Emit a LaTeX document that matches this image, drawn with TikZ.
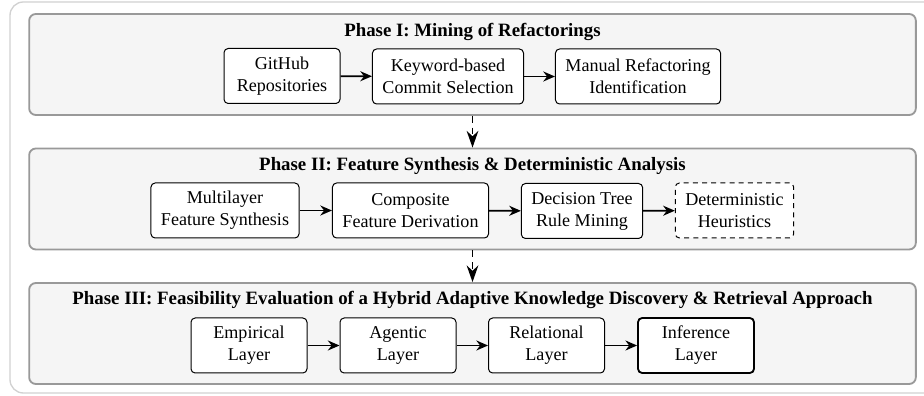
\documentclass[tikz,border=0pt]{standalone}
\usepackage{fontspec}
\setmainfont{Liberation Serif}
\usetikzlibrary{arrows.meta}

\tikzset{
  frame/.style={draw=black!18, fill=white, line width=.8pt, rounded corners=8pt},
  phase/.style={draw=black!40, fill=black!4, line width=1.1pt, rounded corners=4pt,
    minimum width=532pt, minimum height=60.6pt},
  title/.style={anchor=base, font=\fontsize{11.3}{13.5}\selectfont\bfseries},
  box/.style={draw, fill=white, rounded corners=2.5pt, align=center, inner xsep=6pt,
    minimum width=69.6pt, minimum height=33pt, line width=.6pt},
  flow/.style={draw, line width=1pt, -{Stealth[length=7pt,width=6pt]}},
  phaseflow/.style={draw, line width=1.1pt, dash pattern=on 4pt off 3pt,
    -{Stealth[length=10pt,width=7pt]}}
}

\begin{document}
\begin{tikzpicture}[x=.6pt, y=-.6pt, font=\fontsize{10.85}{13.2}\selectfont]

      \useasboundingbox (0,0) rectangle (924,396);
      \draw[frame] (10,2) rectangle (980,393);

      \node[phase] (I)   at (472.5,64.5)  {};
      \node[phase] (II)  at (472.5,199)   {};
      \node[phase] (III) at (472.5,333.5) {};

      \node[title] at (472.5,36.7) {Phase I: Mining of Refactorings};
      \node[title] at (472.5,171)  {Phase II: Feature Synthesis \& Deterministic Analysis};
      \node[title] at (472.5,305)  {Phase III: Feasibility Evaluation of a Hybrid Adaptive Knowledge Discovery \& Retrieval Approach};

      \begin{scope}[every node/.style={box}]
        \node (1)  at (282,76)      {GitHub\\Repositories};
        \node (2)  at (448,76.5)    {Keyword-based\\Commit Selection};
        \node (3)  at (638,76.5)    {Manual Refactoring\\Identification};
        \node (4)  at (225,210.5)   {Multilayer\\Feature Synthesis};
        \node (5)  at (410.5,210.5) {Composite\\Feature Derivation};
        \node (6)  at (582,211)     {Decision Tree\\Rule Mining};
        \node (7)  at (734.5,210.5) [dashed, dash pattern=on 3pt off 2.5pt] {Deterministic\\Heuristics};
        \node (8)  at (249,345.5)   {Empirical\\Layer};
        \node (9)  at (398,345.5)   {Agentic\\Layer};
        \node (10) at (546.5,345.5) {Relational\\Layer};
        \node (11) at (696,345.5)   [line width=1.1pt] {Inference\\Layer};
      \end{scope}

      \begin{scope}[every edge/.style={flow}]
        \path (1)  edge (2);
        \path (2)  edge (3);
        \path (4)  edge (5);
        \path (5)  edge (6);
        \path (6)  edge (7);
        \path (8)  edge (9);
        \path (9)  edge (10);
        \path (10) edge (11);
      \end{scope}

      \begin{scope}[every edge/.style={phaseflow}]
        \path (I)  edge (II);
        \path (II) edge (III);
      \end{scope}

    \end{tikzpicture}
\end{document}
